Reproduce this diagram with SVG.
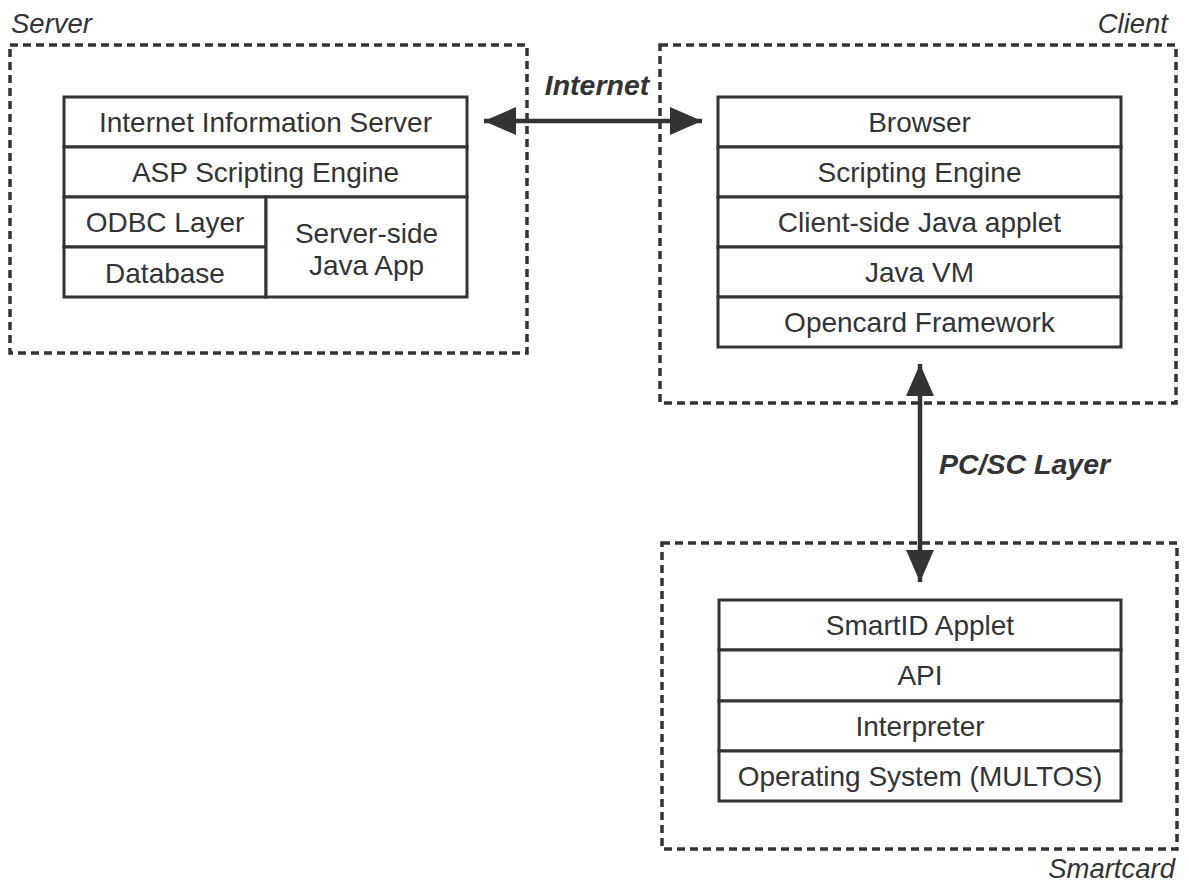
<svg xmlns="http://www.w3.org/2000/svg" width="1189" height="894" viewBox="0 0 1189 894">
  <style>
    .zone { fill: none; stroke: #333335; stroke-width: 3.5; stroke-dasharray: 8 5; }
    .cell { fill: #ffffff; stroke: #333335; stroke-width: 3; }
    .t { font-family: "Liberation Sans", Arial, sans-serif; font-size: 28px; fill: #333335; text-anchor: middle; }
    .zl { font-family: "Liberation Sans", Arial, sans-serif; font-size: 27.5px; font-style: italic; fill: #333335; }
    .cl { font-family: "Liberation Sans", Arial, sans-serif; font-size: 28.5px; font-style: italic; font-weight: bold; fill: #333335; }
    .link { stroke: #333335; stroke-width: 4.5; fill: none; }
  </style>
  <defs>
    <marker id="head" viewBox="0 0 32 28" refX="32" refY="14" markerWidth="32" markerHeight="28" markerUnits="userSpaceOnUse" orient="auto-start-reverse">
      <path d="M0,0 L32,14 L0,28 Z" fill="#333335"/>
    </marker>
  </defs>
  <rect width="1189" height="894" fill="#ffffff"/>

  <!-- Server zone -->
  <g id="server">
    <rect class="zone" x="10" y="45" width="517" height="308"/>
    <text class="zl" x="11" y="33">Server</text>
    <rect class="cell" x="64" y="97" width="403" height="50"/>
    <text class="t" x="265.5" y="132">Internet Information Server</text>
    <rect class="cell" x="64" y="147" width="403" height="50"/>
    <text class="t" x="265.5" y="182">ASP Scripting Engine</text>
    <rect class="cell" x="64" y="197" width="202" height="50"/>
    <text class="t" x="165" y="232">ODBC Layer</text>
    <rect class="cell" x="64" y="247" width="202" height="50"/>
    <text class="t" x="165" y="283">Database</text>
    <rect class="cell" x="266" y="197" width="201" height="100"/>
    <text class="t" x="366.5" y="243">Server-side</text>
    <text class="t" x="366.5" y="275">Java App</text>
  </g>

  <!-- Client zone -->
  <g id="client">
    <rect class="zone" x="660" y="45" width="516" height="358"/>
    <text class="zl" x="1168" y="33" text-anchor="end">Client</text>
    <rect class="cell" x="718" y="97" width="403" height="50"/>
    <text class="t" x="919.5" y="132">Browser</text>
    <rect class="cell" x="718" y="147" width="403" height="50"/>
    <text class="t" x="919.5" y="182">Scripting Engine</text>
    <rect class="cell" x="718" y="197" width="403" height="50"/>
    <text class="t" x="919.5" y="232">Client-side Java applet</text>
    <rect class="cell" x="718" y="247" width="403" height="50"/>
    <text class="t" x="919.5" y="282">Java VM</text>
    <rect class="cell" x="718" y="297" width="403" height="50"/>
    <text class="t" x="919.5" y="332">Opencard Framework</text>
  </g>

  <!-- Smartcard zone -->
  <g id="smartcard">
    <rect class="zone" x="662" y="543" width="515" height="306"/>
    <text class="zl" x="1175" y="878" text-anchor="end">Smartcard</text>
    <rect class="cell" x="719" y="600" width="402" height="50"/>
    <text class="t" x="920" y="635">SmartID Applet</text>
    <rect class="cell" x="719" y="650" width="402" height="51"/>
    <text class="t" x="920" y="685">API</text>
    <rect class="cell" x="719" y="701" width="402" height="50"/>
    <text class="t" x="920" y="736">Interpreter</text>
    <rect class="cell" x="719" y="751" width="402" height="50"/>
    <text class="t" x="920" y="786">Operating System (MULTOS)</text>
  </g>

  <!-- Connectors -->
  <g id="connectors">
    <line class="link" x1="484" y1="121" x2="702" y2="121" marker-start="url(#head)" marker-end="url(#head)"/>
    <text class="cl" x="597" y="95" text-anchor="middle">Internet</text>
    <line class="link" x1="920" y1="364" x2="920" y2="582" marker-start="url(#head)" marker-end="url(#head)"/>
    <text class="cl" x="939" y="474">PC/SC Layer</text>
  </g>
</svg>
